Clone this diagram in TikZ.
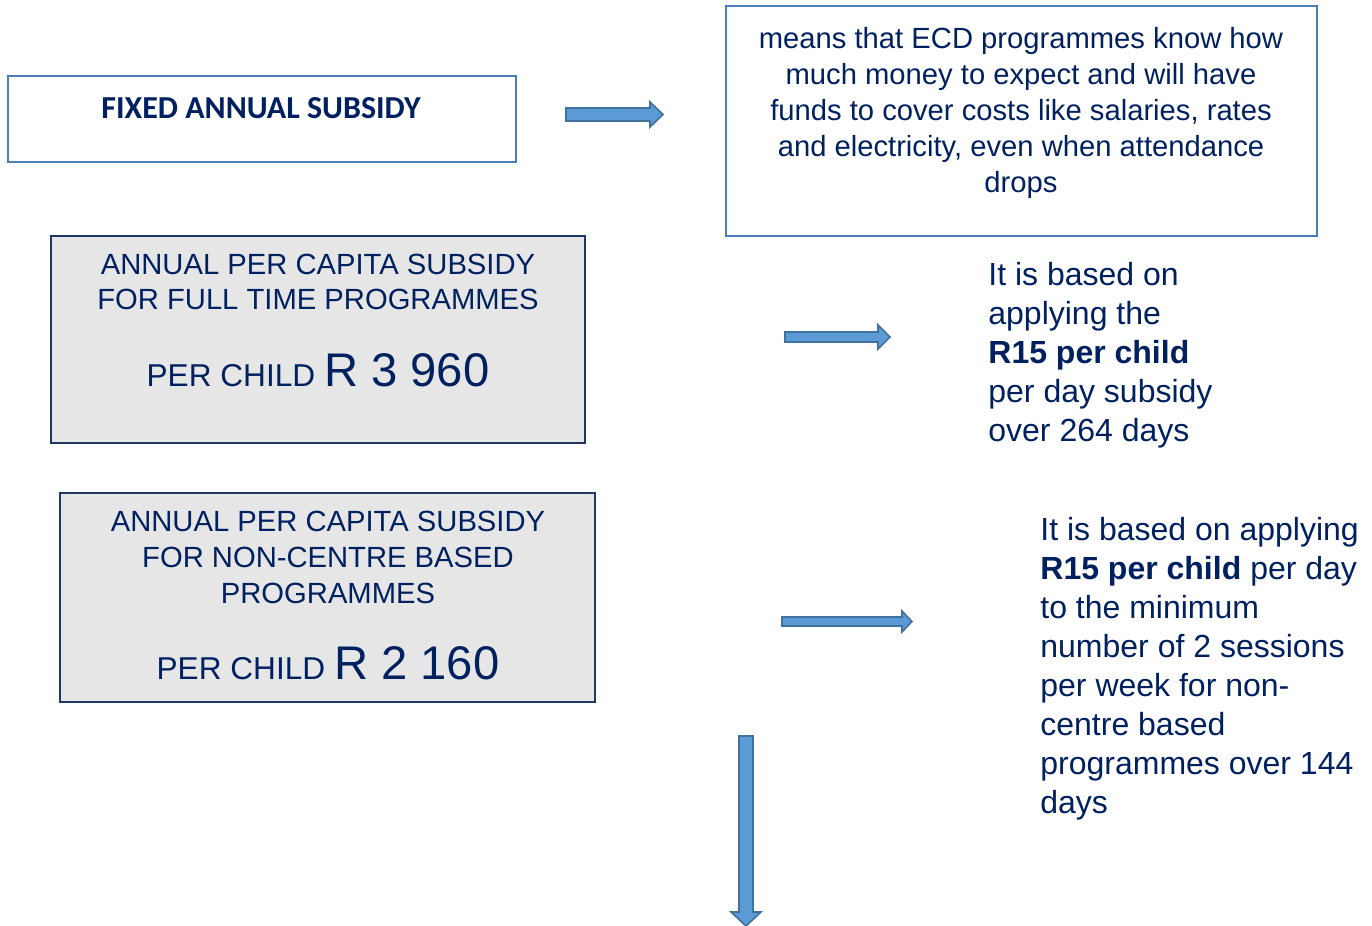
\documentclass[tikz,border=0pt]{standalone}
\usepackage{fontspec}
\setmainfont{Liberation Sans}
\newfontfamily\calibri{Carlito}
\usetikzlibrary{positioning}

\definecolor{navy}{HTML}{002060}
\definecolor{steel}{HTML}{4A7EBB}
\definecolor{boxgray}{HTML}{E6E6E6}
\definecolor{boxline}{HTML}{1F3864}
\definecolor{arrowfill}{HTML}{5B9BD5}
\definecolor{arrowline}{HTML}{41719C}

% block arrows: start, tip, centre line, half shaft, half head, head length
\newcommand{\harrow}[6]{%
  \draw[blockarrow] (#1,#3-#4) -- (#2-#6,#3-#4) -- (#2-#6,#3-#5) -- (#2,#3)
    -- (#2-#6,#3+#5) -- (#2-#6,#3+#4) -- (#1,#3+#4) -- cycle;}
\newcommand{\varrow}[6]{%
  \draw[blockarrow] (#1-#4,#2) -- (#1+#4,#2) -- (#1+#4,#3-#6) -- (#1+#5,#3-#6)
    -- (#1,#3) -- (#1-#5,#3-#6) -- (#1-#4,#3-#6) -- cycle;}

\begin{document}
\begin{tikzpicture}[x=0.5pt, y=-0.5pt, inner sep=0pt,
  whitebox/.style={draw=steel, line width=1.1pt, fill=white},
  graybox/.style={draw=boxline, line width=1pt, fill=boxgray},
  blockarrow/.style={draw=arrowline, line width=0.8pt, fill=arrowfill, line join=miter},
  boxtext/.style={text=navy, font=\fontsize{14.6}{17.5}\selectfont, align=center},
  sidetext/.style={text=navy, font=\fontsize{16}{19.5}\selectfont, align=left},
  price/.style={text=navy, font=\fontsize{15.8}{18}\selectfont}]
  \useasboundingbox (0,0) rectangle (1372,926);

  % boxes on the left and the explanation on top
  \node[whitebox, minimum width=254pt, minimum height=43pt] (fixed) at (262,119) {};
  \node[text=navy, font=\calibri\fontsize{16}{19}\selectfont\bfseries, anchor=base] (fixedtxt) at (261,118) {FIXED ANNUAL SUBSIDY};

  \node[whitebox, minimum width=295.5pt, minimum height=115pt] (means) at (1021.5,121) {};
  \node[boxtext, font=\fontsize{14.6}{18}\selectfont, anchor=north] (meanstxt) at (1021,27)
    {means that ECD programmes know how\\much money to expect and will have\\funds to cover costs like salaries, rates\\and electricity, even when attendance\\drops};

  \node[graybox, minimum width=267pt, minimum height=103.5pt] (fulltime) at (318,339.5) {};
  \node[boxtext, anchor=north] (fulltimetxt) at (318,254)
    {ANNUAL PER CAPITA SUBSIDY\\FOR FULL TIME PROGRAMMES};
  \node[price, anchor=base] (fulltimeprice) at (318,386)
    {PER CHILD {\fontsize{23.6}{28}\selectfont R 3 960}};

  \node[graybox, minimum width=267.5pt, minimum height=104.5pt] (noncentre) at (327.5,597.5) {};
  \node[boxtext, font=\fontsize{14.6}{18}\selectfont, anchor=north] (noncentretxt) at (328,511)
    {ANNUAL PER CAPITA SUBSIDY\\FOR NON-CENTRE BASED\\PROGRAMMES};
  \node[price, anchor=base] (noncentreprice) at (328,679)
    {PER CHILD {\fontsize{23.6}{28}\selectfont R 2 160}};

  % notes on the right
  \node[sidetext, anchor=north west] (fullnote) at (988,262)
    {It is based on\\applying the\\\textbf{R15 per child}\\per day subsidy\\over 264 days};
  \node[sidetext, anchor=north west] (nonnote) at (1040,517)
    {It is based on applying\\\textbf{R15 per child} per day\\to the minimum\\number of 2 sessions\\per week for non-\\centre based\\programmes over 144\\days};

  % arrows
  \harrow{566}{663}{114.5}{6.5}{12.5}{13}
  \harrow{785}{890}{337}{5}{12}{12}
  \harrow{782}{912}{621.5}{4.5}{10.5}{10}
  \varrow{746}{736}{926}{7}{15}{14}
\end{tikzpicture}
\end{document}
